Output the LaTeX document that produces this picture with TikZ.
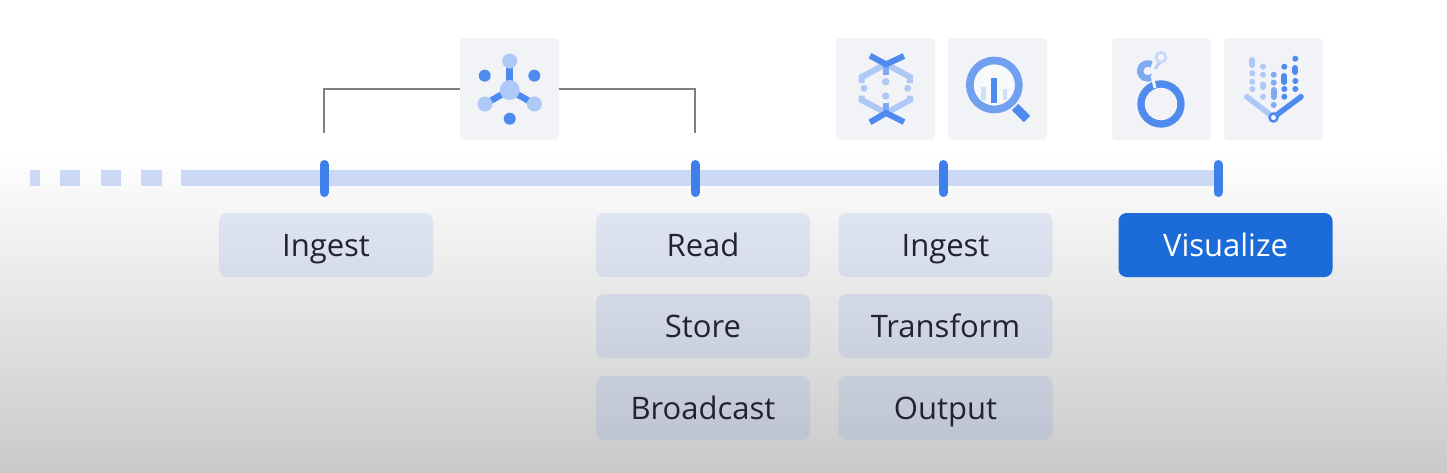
\documentclass[tikz,border=0pt]{standalone}
\usepackage{fontspec}
\setmainfont{Open Sans}
\definecolor{railblue}{HTML}{CCD9F5}
\definecolor{tickblue}{HTML}{3F7FEA}
\definecolor{tilegrey}{HTML}{F1F3F7}
\definecolor{iconlight}{HTML}{AEC9F8}
\definecolor{iconmid}{HTML}{7FA9F2}
\definecolor{icondark}{HTML}{4F8BEE}
\definecolor{labelink}{HTML}{1F2430}
\definecolor{vizblue}{HTML}{1B6BD8}
\tikzset{
    stepbox/.style={rectangle, rounded corners=8pt, minimum width=214pt, minimum height=64pt,
        fill={rgb,255:red,100;green,140;blue,226}, fill opacity=0.15, text opacity=1, text=labelink,
        font=\fontsize{31}{31}\selectfont, inner sep=0pt, text height=23pt, text depth=0pt},
    activebox/.style={stepbox, fill=vizblue, fill opacity=1, text=white},
    tile/.style={rectangle, rounded corners=4pt, minimum width=99pt, minimum height=102pt, fill=tilegrey, inner sep=0pt},
    tick/.style={tickblue, line width=9pt, line cap=round},
    bracket/.style={draw=black!50, line width=1.6pt}
}
\begin{document}
\begin{tikzpicture}[x=1pt, y=-1pt]
    \useasboundingbox (0,0) rectangle (1447,472);
    \fill[white] (0,0) rectangle (1447,150);
    \shade[top color=white, bottom color=black!21, shading angle=0] (0,150) rectangle (1447,472);

    % timeline
    \foreach \a/\b in {30/40, 60/80, 101/121, 141/162}
        \fill[railblue] (\a,170) rectangle (\b,186);
    \fill[railblue] (181,170) rectangle (1218,186);

    \foreach \name/\x in {tickA/324, tickB/695, tickC/943, tickD/1218} {
        \coordinate (\name) at (\x,178);
        \draw[tick] (\x,164.5) -- (\x,192.5);
    }

    % steps
    \node[stepbox] (ingestA) at (326,245) {Ingest};
    \node[stepbox] (read) at (703,245) {Read};
    \node[stepbox] (store) at (703,326) {Store};
    \node[stepbox] (broadcast) at (703,408) {Broadcast};
    \node[stepbox] (ingestB) at (945.5,245) {Ingest};
    \node[stepbox] (transform) at (945.5,326) {Transform};
    \node[stepbox] (output) at (945.5,408) {Output};
    \node[activebox] (visualize) at (1225.5,245) {Visualize};

    % tiles
    \node[tile] (hub) at (509.5,89) {};
    \node[tile] (dataflow) at (885.5,89) {};
    \node[tile] (bigquery) at (997.5,89) {};
    \node[tile] (looker) at (1161.5,89) {};
    \node[tile] (vertex) at (1273.5,89) {};

    \coordinate (bracketA) at (324,133);
    \coordinate (bracketB) at (695,133);
    \draw[bracket] (hub.west) -| (bracketA);
    \draw[bracket] (hub.east) -| (bracketB);

    % hub icon
    \draw[icondark, line width=6.5pt] (509.7,61) -- (509.7,82);
    \draw[icondark, line width=6.5pt] (485,104) -- (509.7,90);
    \draw[icondark, line width=6.5pt] (534.4,104) -- (509.7,90);
    \fill[iconlight] (509.7,90) circle (10);
    \fill[iconlight] (509.7,61) circle (7.5);
    \fill[iconlight] (485,104) circle (7.5);
    \fill[iconlight] (534.4,104) circle (7.5);
    \fill[icondark] (484.7,75.7) circle (6);
    \fill[icondark] (534.3,75.7) circle (6);
    \fill[icondark] (509.7,118.7) circle (6);

    % dataflow icon
    \draw[iconlight, line width=6pt] (886,64) -- (861.7,77) -- (861.7,83);
    \draw[iconlight, line width=6pt] (886,64) -- (910,77) -- (910,83);
    \draw[iconlight, line width=6pt] (886,113) -- (861.7,100) -- (861.7,95.7);
    \draw[iconlight, line width=6pt] (886,113) -- (910,100) -- (910,95.7);
    \draw[iconmid, line width=6pt] (886,64) -- (886,75);
    \draw[iconmid, line width=6pt] (886,103) -- (886,113);
    \draw[icondark, line width=6pt] (870,55.7) -- (886,64.3) -- (904,56);
    \draw[icondark, line width=6pt] (870,122.3) -- (886,113) -- (904,122);
    \fill[iconlight] (864,88.3) circle (3.4);
    \fill[iconlight] (907.7,88.3) circle (3.4);
    \fill[iconlight] (885.7,81.7) circle (3.7);
    \fill[iconlight] (885.7,96) circle (3.7);

    % bigquery icon
    \fill[tilegrey!50!white] (994.3,85) circle (24);
    \draw[icondark, line width=9pt] (1015,107) -- (1027,119);
    \draw[iconmid!70!icondark, line width=7.7pt] (994.3,85) circle (24.5);
    \draw[iconlight!60!white, line width=4.5pt] (983.5,87) -- (983.5,100);
    \draw[iconlight!60!white, line width=4.5pt] (1005,89) -- (1005,100);
    \draw[icondark, line width=6pt] (994.3,78) -- (994.3,103);

    % looker icon
    \draw[icondark, line width=7.3pt] (1161,104) circle (20);
    \draw[iconmid, line width=6.5pt] (1151.5,64.5) arc[start angle=-60, end angle=-310, radius=7.5];
    \draw[iconlight, line width=2.5pt] (1160,62) -- (1155,69);
    \draw[tilegrey, line width=3pt] (1152,75) -- (1155,88);
    \draw[iconlight!70!white, line width=2.7pt] (1161,57.3) circle (5);

    % vertex icon
    \tikzset{vdot/.style={line width=6pt, line cap=round}}
    \foreach \x/\col/\a/\b/\others in {1252.3/iconlight/60/65/{73.3,81.7,89}, 1263/iconlight/84.5/87/{66.7,74.7,96.7},
        1273.7/iconmid/90/97/{74.7,82.7,105}, 1284.3/icondark/76/82/{66.7,89,96.7}, 1295.3/icondark/68/72/{58.7,81,89}} {
        \draw[vdot, \col] (\x,\a) -- (\x,\b);
        \foreach \y in \others
            \fill[\col] (\x,\y) circle (3);
    }
    \draw[iconlight, line width=5.5pt, line cap=round] (1246.7,96.7) -- (1273.5,117.3);
    \draw[icondark, line width=5.5pt, line cap=round] (1273.5,117.3) -- (1301,96.7);
    \draw[icondark, fill=tilegrey!50!white, line width=2.5pt] (1273.5,117.5) circle (4);

\end{tikzpicture}
\end{document}
